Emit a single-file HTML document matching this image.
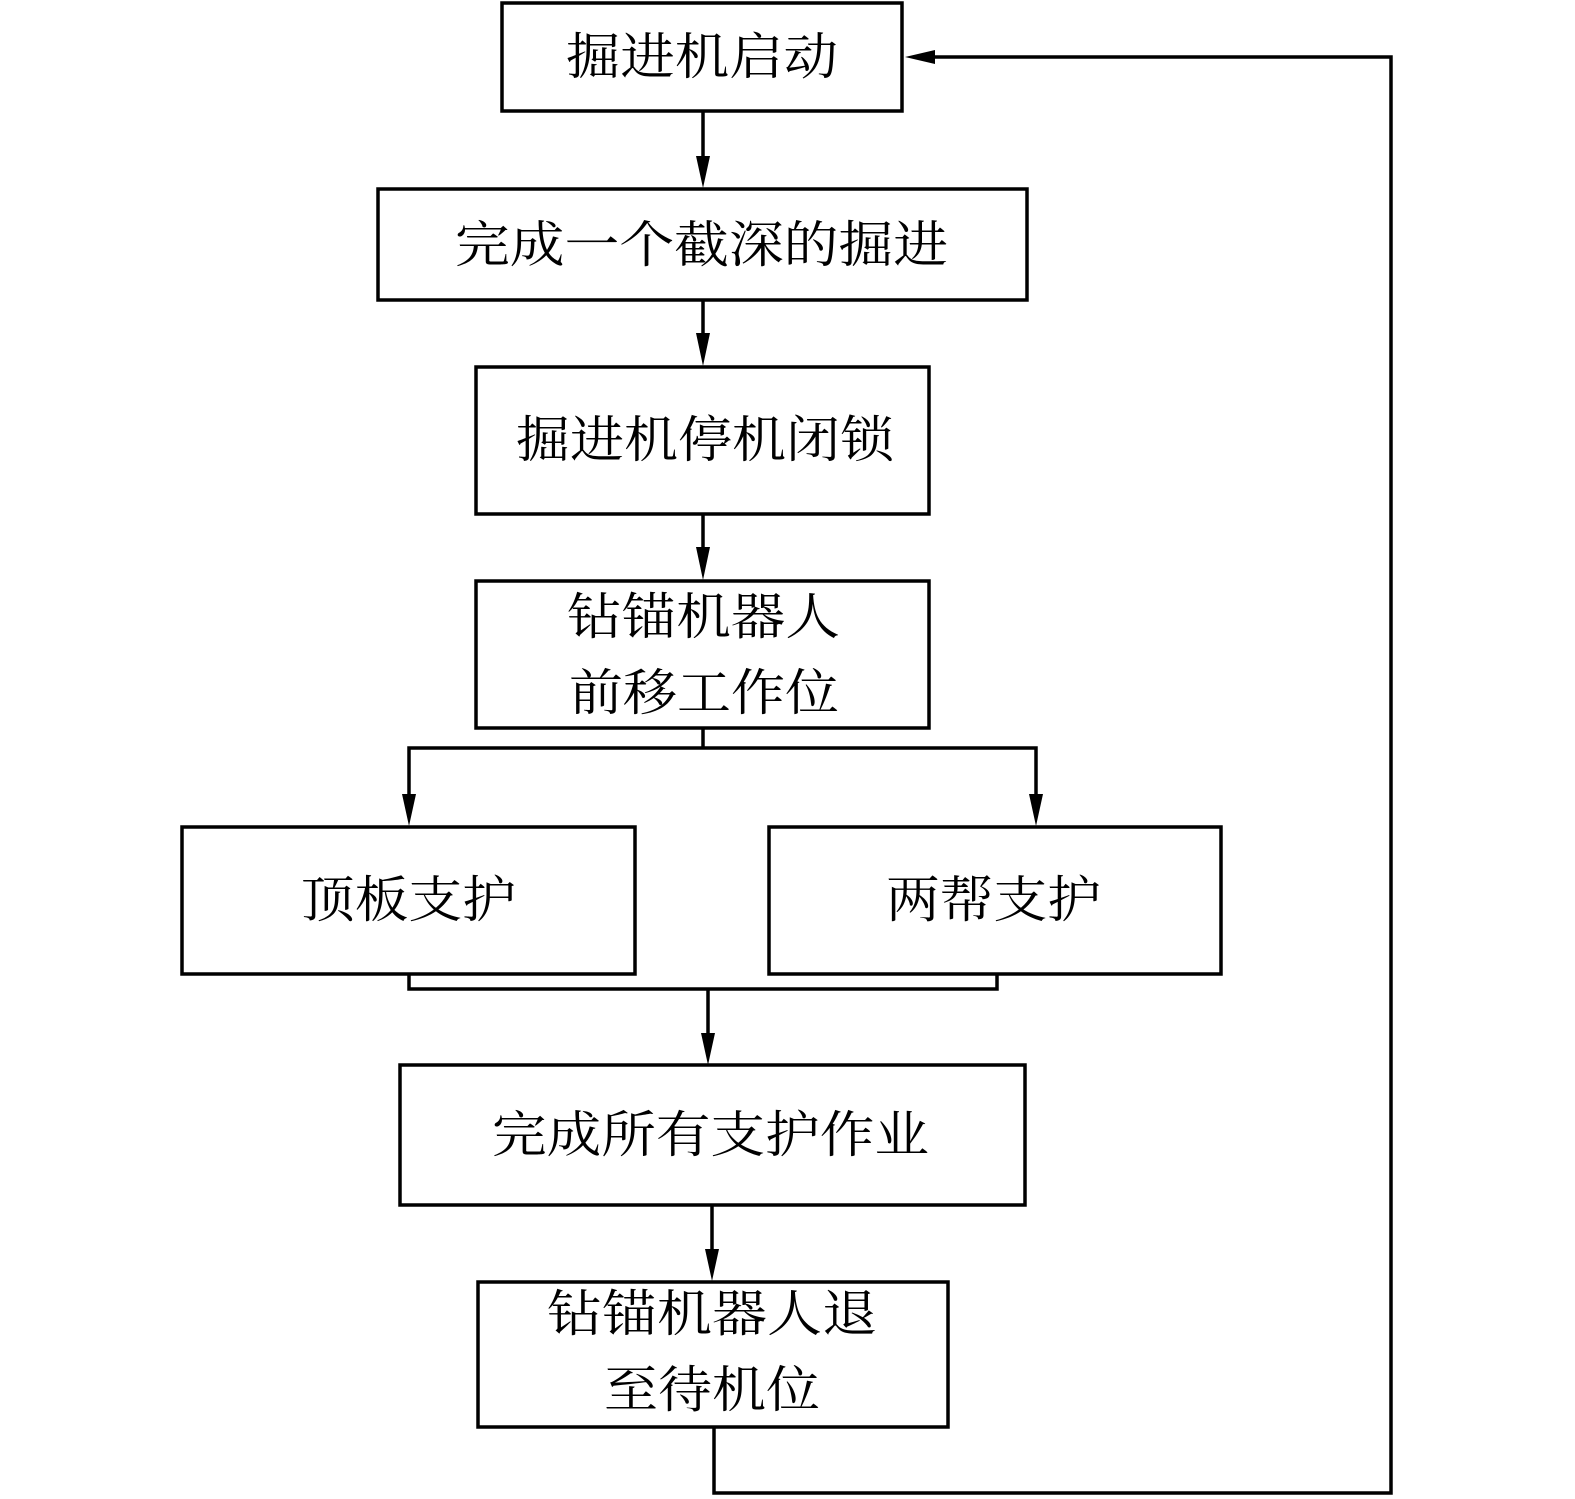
<!DOCTYPE html>
<html><head><meta charset="utf-8"><style>html,body{margin:0;padding:0;background:#fff}svg{display:block}</style></head>
<body>
<svg width="1575" height="1499" viewBox="0 0 1575 1499" xmlns="http://www.w3.org/2000/svg">
<g fill="none" stroke="#000" stroke-width="3.5">
<rect x="502" y="3" width="400" height="108"/>
<rect x="378" y="189" width="649" height="111"/>
<rect x="476" y="367" width="453" height="147"/>
<rect x="476" y="581" width="453" height="147"/>
<rect x="182" y="827" width="453" height="147"/>
<rect x="769" y="827" width="452" height="147"/>
<rect x="400" y="1065" width="625" height="140"/>
<rect x="478" y="1282" width="470" height="145"/>
</g>
<g fill="none" stroke="#000" stroke-width="3.5">
<path d="M703,111 V160"/>
<path d="M703,300 V340"/>
<path d="M703,514 V550"/>
<path d="M703,728 V748 H409 V800 M703,748 H1036 V800"/>
<path d="M409,974 V989 H997 V974"/>
<path d="M708,989 V1040"/>
<path d="M712,1205 V1255"/>
<path d="M714,1427 V1493 H1391 V57 H930"/>
</g>
<g fill="#000">
<path d="M696,156 L710,156 L703,188 Z"/>
<path d="M696,333 L710,333 L703,366 Z"/>
<path d="M696,547 L710,547 L703,580 Z"/>
<path d="M402,794 L416,794 L409,826 Z"/>
<path d="M1029,794 L1043,794 L1036,826 Z"/>
<path d="M701,1033 L715,1033 L708,1065 Z"/>
<path d="M705,1249 L719,1249 L712,1281 Z"/>
<path d="M905,57 L935,50 L935,64 Z"/>
</g>
<g font-family="'Noto Serif CJK SC','WenQuanYi Zen Hei',serif" font-size="50" fill="#000">
<text x="566" y="74" textLength="272" lengthAdjust="spacingAndGlyphs">掘进机启动</text>
<text x="455" y="262" textLength="493" lengthAdjust="spacingAndGlyphs">完成一个截深的掘进</text>
<text x="516" y="457" textLength="378" lengthAdjust="spacingAndGlyphs">掘进机停机闭锁</text>
<text x="567" y="634" textLength="273" lengthAdjust="spacingAndGlyphs">钻锚机器人</text>
<text x="569" y="710" textLength="270" lengthAdjust="spacingAndGlyphs">前移工作位</text>
<text x="301" y="917" textLength="215" lengthAdjust="spacingAndGlyphs">顶板支护</text>
<text x="886" y="917" textLength="215" lengthAdjust="spacingAndGlyphs">两帮支护</text>
<text x="492" y="1152" textLength="437" lengthAdjust="spacingAndGlyphs">完成所有支护作业</text>
<text x="547" y="1331" textLength="330" lengthAdjust="spacingAndGlyphs">钻锚机器人退</text>
<text x="604" y="1407" textLength="216" lengthAdjust="spacingAndGlyphs">至待机位</text>
</g>
</svg>
</body></html>
